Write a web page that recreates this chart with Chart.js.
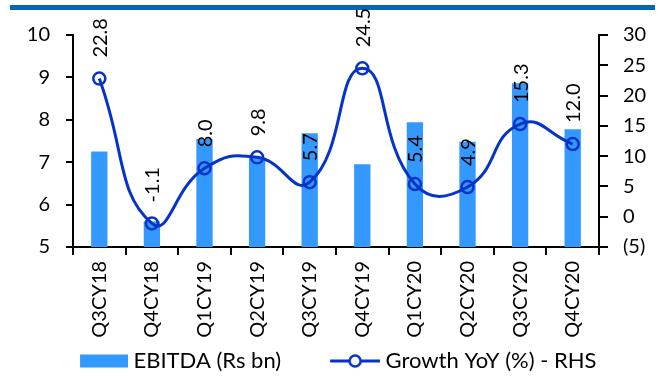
<!DOCTYPE html>
<html>
<head>
<meta charset="utf-8">
<script src="https://cdn.jsdelivr.net/npm/chart.js@4.4.1/dist/chart.umd.min.js"></script>
<style>
  html, body { margin: 0; padding: 0; background: #fff; }
  #wrap { width: 664px; height: 378px; }
</style>
</head>
<body>
<div id="wrap"><canvas id="myChart" width="664" height="378"></canvas></div>
<script>
// дані з картинки
const quarters = ['Q3CY18', 'Q4CY18', 'Q1CY19', 'Q2CY19', 'Q3CY19', 'Q4CY19', 'Q1CY20', 'Q2CY20', 'Q3CY20', 'Q4CY20'];
const ebitda = [7.25, 5.6, 7.55, 7.1, 7.68, 6.95, 7.94, 7.48, 8.86, 7.78];
const growthYoY = [22.8, -1.1, 8.0, 9.8, 5.7, 24.5, 5.4, 4.9, 15.3, 12.0];
const leftTicks = [5, 10, 1];     // min, max, step
const rightTicks = [-5, 30, 5];

const barColor = '#3399ff';
const lineColor = '#0633c8';
const fontName = 'Lato, Carlito, sans-serif';
const legendShift = 4; // легенду трохи нижче

// картинки для легенди
function legendImg(kind) {
  const c = document.createElement('canvas');
  c.width = 55; c.height = 16;
  const g = c.getContext('2d');
  if (kind === 'bar') {
    g.fillStyle = barColor;
    g.fillRect(7, 1.5, 48, 13);
  } else {
    g.strokeStyle = lineColor;
    g.lineWidth = 3;
    g.beginPath(); g.moveTo(5, 8); g.lineTo(55, 8); g.stroke();
    g.lineWidth = 2.5;
    g.fillStyle = '#fff';
    g.beginPath(); g.arc(30, 8, 5.5, 0, Math.PI * 2); g.fill(); g.stroke();
  }
  return c;
}

// синя смуга зверху
const topBand = {
  id: 'topBand',
  beforeDraw(chart) {
    const c = chart.ctx;
    c.save();
    c.fillStyle = '#0666b4';
    c.fillRect(10, 5, 645, 5);
    c.restore();
  }
};

// підписи значень над точками
const valueLabels = {
  id: 'valueLabels',
  afterDatasetsDraw(chart) {
    const c = chart.ctx;
    const meta = chart.getDatasetMeta(1);
    c.save();
    c.font = '20px ' + fontName;
    c.fillStyle = '#000';
    c.textAlign = 'left';
    c.textBaseline = 'middle';
    meta.data.forEach((pt, i) => {
      c.save();
      c.translate(pt.x + 1, pt.y - 21);
      c.rotate(-Math.PI / 2);
      c.fillText(growthYoY[i].toFixed(1), 0, 0);
      c.restore();
    });
    c.restore();
  }
};

const axisLine = { color: '#000', width: 2 };
const tickFont = { family: fontName, size: 20 };

const ctx = document.getElementById('myChart').getContext('2d');

let myChart = new Chart(ctx, {
  type: 'bar',
  data: {
    labels: quarters,
    datasets: [{
      label: 'EBITDA (Rs bn)',
      data: ebitda,
      backgroundColor: barColor,
      yAxisID: 'y',
      barPercentage: 0.31,
      categoryPercentage: 1,
      order: 2
    }, {
      type: 'line',
      label: 'Growth YoY (%) - RHS',
      data: growthYoY,
      yAxisID: 'y1',
      borderColor: lineColor,
      borderWidth: 3,
      tension: 0.5,
      pointRadius: 6,
      pointBorderWidth: 2.5,
      pointBackgroundColor: 'rgba(0,0,0,0)',
      pointBorderColor: lineColor,
      order: 1
    }]
  },
  options: {
    responsive: false,
    animation: false,
    layout: { padding: { top: 35, left: 11, right: 0, bottom: -legendShift } },
    plugins: {
      tooltip: { enabled: false },
      legend: {
        position: 'bottom',
        labels: {
          usePointStyle: true,
          pointStyleWidth: 44,
          boxHeight: 14,
          padding: 10,
          color: '#000',
          font: { family: fontName, size: 22 },
          generateLabels: () => [
            { text: 'EBITDA (Rs bn)       ', pointStyle: legendImg('bar'), lineWidth: 0, hidden: false, datasetIndex: 0 },
            { text: 'Growth YoY (%) - RHS', pointStyle: legendImg('line'), lineWidth: 0, hidden: false, datasetIndex: 1 }
          ]
        }
      }
    },
    scales: {
      x: {
        offset: true,
        grid: { offset: true, drawOnChartArea: false, drawTicks: true, tickLength: 8, color: '#000', lineWidth: 2 },
        border: axisLine,
        ticks: { color: '#000', font: tickFont, minRotation: 90, maxRotation: 90, autoSkip: false, padding: 6 },
        afterFit: (s) => { s.height = 378 - 247 - s.chart.legend.height + legendShift; }
      },
      y: {
        position: 'left',
        min: leftTicks[0], max: leftTicks[1],
        ticks: { stepSize: leftTicks[2], color: '#000', font: tickFont, padding: 16 },
        grid: { drawOnChartArea: false, tickLength: 7, color: '#000', lineWidth: 2 },
        border: axisLine,
        afterFit: (s) => { s.width = 62; }
      },
      y1: {
        position: 'right',
        min: rightTicks[0], max: rightTicks[1],
        ticks: {
          stepSize: rightTicks[2], color: '#000', font: tickFont, padding: 15,
          callback: (v) => v < 0 ? '(' + (-v) + ')' : v
        },
        grid: { drawOnChartArea: false, tickLength: 9, color: '#000', lineWidth: 2 },
        border: axisLine,
        afterFit: (s) => { s.width = 65; }
      }
    }
  },
  plugins: [topBand, valueLabels]
});
</script>
</body>
</html>
